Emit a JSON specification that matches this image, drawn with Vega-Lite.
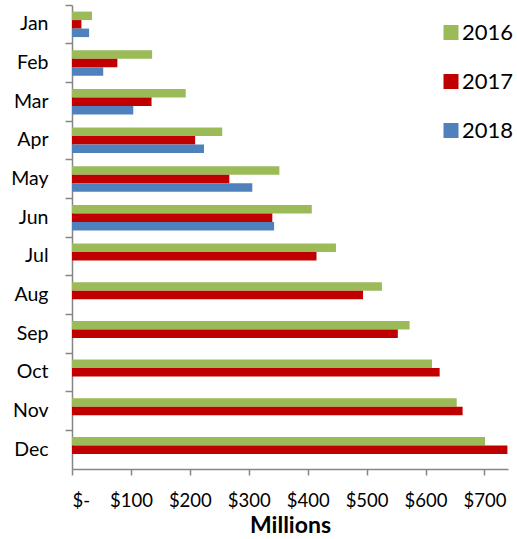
{
  "$schema": "https://vega.github.io/schema/vega-lite/v6.json",
  "width": 436,
  "height": 464,
  "autosize": {"type": "none"},
  "padding": {"left": 72, "top": 5, "right": 9, "bottom": 70},
  "background": "white",
  "config": {"font": "Lato", "view": {"stroke": null}},
  "data": {"values": [
    {"month": "Jan", "year": "2016", "value": 34},
    {"month": "Jan", "year": "2017", "value": 16},
    {"month": "Jan", "year": "2018", "value": 29},
    {"month": "Feb", "year": "2016", "value": 136},
    {"month": "Feb", "year": "2017", "value": 77},
    {"month": "Feb", "year": "2018", "value": 53},
    {"month": "Mar", "year": "2016", "value": 193},
    {"month": "Mar", "year": "2017", "value": 135},
    {"month": "Mar", "year": "2018", "value": 104},
    {"month": "Apr", "year": "2016", "value": 255},
    {"month": "Apr", "year": "2017", "value": 209},
    {"month": "Apr", "year": "2018", "value": 224},
    {"month": "May", "year": "2016", "value": 352},
    {"month": "May", "year": "2017", "value": 267},
    {"month": "May", "year": "2018", "value": 306},
    {"month": "Jun", "year": "2016", "value": 407},
    {"month": "Jun", "year": "2017", "value": 340},
    {"month": "Jun", "year": "2018", "value": 343},
    {"month": "Jul", "year": "2016", "value": 448},
    {"month": "Jul", "year": "2017", "value": 415},
    {"month": "Aug", "year": "2016", "value": 526},
    {"month": "Aug", "year": "2017", "value": 494},
    {"month": "Sep", "year": "2016", "value": 573},
    {"month": "Sep", "year": "2017", "value": 553},
    {"month": "Oct", "year": "2016", "value": 611},
    {"month": "Oct", "year": "2017", "value": 624},
    {"month": "Nov", "year": "2016", "value": 653},
    {"month": "Nov", "year": "2017", "value": 663},
    {"month": "Dec", "year": "2016", "value": 701},
    {"month": "Dec", "year": "2017", "value": 739}
  ]},
  "layer": [
    {
      "mark": {"type": "bar"},
      "encoding": {
        "y": {
          "field": "month", "type": "nominal",
          "sort": ["Jan","Feb","Mar","Apr","May","Jun","Jul","Aug","Sep","Oct","Nov","Dec"],
          "scale": {"paddingInner": 0, "paddingOuter": 0},
          "axis": {"title": null, "ticks": false, "tickSize": 0, "domain": true, "domainColor": "#868686", "domainWidth": 1.5, "labelFontSize": 19.5, "labelPadding": 24, "labelColor": "black"}
        },
        "yOffset": {
          "field": "year", "type": "nominal", "sort": ["2016","2017","2018"],
          "scale": {"domain": ["2016","2017","2018"], "paddingInner": 0, "paddingOuter": 0.775}
        },
        "x": {
          "field": "value", "type": "quantitative",
          "scale": {"domain": [0, 740], "nice": false},
          "axis": {
            "title": "Millions", "titleFontSize": 23, "titleFontWeight": "bold", "titleColor": "black", "titlePadding": 5,
            "values": [0,100,200,300,400,500,600,700],
            "labelExpr": "datum.value == 0 ? '$-' : '$' + datum.value",
            "labelFontSize": 18.5, "labelColor": "black", "labelPadding": 16,
            "grid": false, "tickSize": 6, "tickColor": "#868686", "tickWidth": 1.5,
            "domainColor": "#868686", "domainWidth": 1.5
          }
        },
        "color": {
          "field": "year", "type": "nominal",
          "scale": {"domain": ["2016","2017","2018"], "range": ["#9BBB59","#C00000","#4F81BD"]},
          "legend": {
            "title": null, "orient": "none", "legendX": 368, "legendY": 16.5,
            "symbolType": "square", "symbolSize": 225, "symbolStrokeWidth": 0,
            "labelFontSize": 22, "labelColor": "black", "rowPadding": 27, "labelOffset": 0, "padding": 0
          }
        }
      }
    },
    {
      "mark": {"type": "bar", "opacity": 0},
      "encoding": {
        "y": {
          "field": "month", "type": "nominal",
          "sort": ["Jan","Feb","Mar","Apr","May","Jun","Jul","Aug","Sep","Oct","Nov","Dec"],
          "axis": {"title": null, "labels": false, "ticks": true, "tickSize": 7, "tickColor": "#868686", "tickWidth": 1.5, "bandPosition": 0, "domain": false, "orient": "left"}
        },
        "x": {"field": "value", "type": "quantitative"}
      }
    }
  ],
  "resolve": {"axis": {"y": "independent"}}
}
